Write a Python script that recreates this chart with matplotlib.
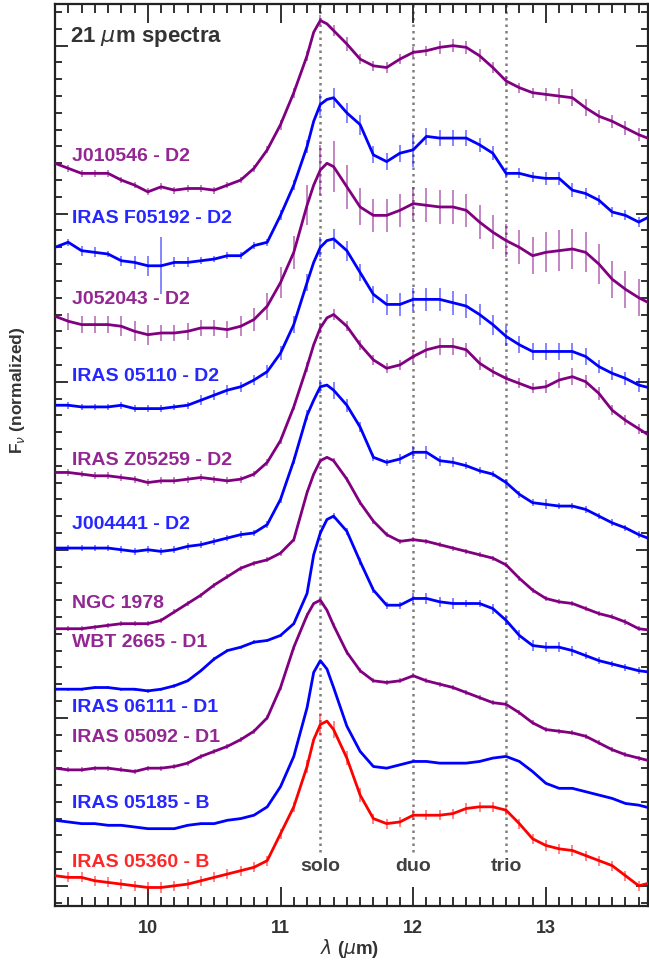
import numpy as np
import matplotlib
matplotlib.use('Agg')
import matplotlib.pyplot as plt
from matplotlib.ticker import MultipleLocator

plt.rcParams['font.family'] = ['Liberation Sans', 'DejaVu Sans']

# wavelength grid (micron), 0.1 steps with two extra samples across the 11.3 peak
wave = [9.3, 9.4, 9.5, 9.6, 9.7, 9.8, 9.9, 10.0,
        10.1, 10.2, 10.3, 10.4, 10.5, 10.6, 10.7, 10.8, 10.9, 11.0,
        11.1, 11.2, 11.25, 11.3, 11.35, 11.4, 11.5, 11.6, 11.7, 11.8, 11.9, 12.0,
        12.1, 12.2, 12.3, 12.4, 12.5, 12.6, 12.7, 12.8, 12.9, 13.0,
        13.1, 13.2, 13.3, 13.4, 13.5, 13.6, 13.7, 13.8]

# normalized spectra, each already shifted by its offset in the stack
f_j010546 = [4.30, 4.27, 4.24, 4.24, 4.24, 4.20, 4.17, 4.13,
             4.16, 4.14, 4.15, 4.15, 4.14, 4.17, 4.20, 4.27, 4.38, 4.53,
             4.72, 4.94, 5.08, 5.15, 5.13, 5.09, 5.01, 4.92, 4.88, 4.87, 4.92, 4.96,
             4.97, 4.99, 5.00, 4.99, 4.94, 4.87, 4.79, 4.75, 4.72, 4.71,
             4.70, 4.69, 4.63, 4.58, 4.55, 4.51, 4.47, 4.44]
f_f05192 = [3.80, 3.83, 3.78, 3.77, 3.76, 3.72, 3.71, 3.69,
            3.69, 3.71, 3.71, 3.72, 3.73, 3.75, 3.75, 3.81, 3.83, 3.99,
            4.17, 4.40, 4.55, 4.65, 4.68, 4.69, 4.60, 4.53, 4.35, 4.31, 4.36, 4.38,
            4.46, 4.45, 4.45, 4.45, 4.41, 4.36, 4.24, 4.24, 4.22, 4.21,
            4.21, 4.14, 4.12, 4.08, 4.01, 3.99, 3.95, 3.99]
f_j052043 = [3.39, 3.36, 3.34, 3.34, 3.34, 3.33, 3.30, 3.28,
             3.29, 3.29, 3.30, 3.32, 3.32, 3.31, 3.33, 3.37, 3.45, 3.59,
             3.77, 4.05, 4.17, 4.26, 4.30, 4.28, 4.16, 4.04, 3.99, 3.99, 4.02, 4.06,
             4.05, 4.04, 4.04, 4.02, 3.95, 3.89, 3.84, 3.80, 3.75, 3.77,
             3.78, 3.79, 3.77, 3.70, 3.61, 3.55, 3.50, 3.46]
f_05110 = [2.86, 2.86, 2.85, 2.85, 2.85, 2.86, 2.84, 2.84,
           2.84, 2.85, 2.86, 2.89, 2.92, 2.95, 2.97, 3.01, 3.06, 3.17,
           3.34, 3.59, 3.71, 3.80, 3.84, 3.85, 3.78, 3.65, 3.52, 3.46, 3.46, 3.49,
           3.49, 3.49, 3.47, 3.45, 3.40, 3.34, 3.27, 3.22, 3.18, 3.18,
           3.18, 3.18, 3.15, 3.09, 3.05, 3.02, 2.98, 2.96]
f_z05259 = [2.46, 2.46, 2.45, 2.44, 2.44, 2.43, 2.42, 2.40,
            2.41, 2.41, 2.42, 2.43, 2.42, 2.41, 2.42, 2.45, 2.52, 2.65,
            2.85, 3.09, 3.22, 3.32, 3.38, 3.40, 3.33, 3.22, 3.13, 3.08, 3.10, 3.15,
            3.19, 3.21, 3.21, 3.19, 3.11, 3.06, 3.02, 2.99, 2.96, 2.97,
            3.01, 3.03, 3.00, 2.93, 2.83, 2.77, 2.72, 2.67]
f_j004441 = [2.01, 2.01, 2.01, 2.01, 2.01, 2.00, 1.99, 2.00,
             1.99, 2.00, 2.02, 2.03, 2.05, 2.07, 2.09, 2.10, 2.15, 2.30,
             2.53, 2.80, 2.89, 2.97, 2.98, 2.95, 2.86, 2.73, 2.55, 2.52, 2.54, 2.58,
             2.58, 2.53, 2.52, 2.50, 2.47, 2.45, 2.40, 2.33, 2.28, 2.27,
             2.26, 2.26, 2.24, 2.20, 2.16, 2.13, 2.09, 2.06]
f_ngc1978 = [1.53, 1.53, 1.53, 1.54, 1.55, 1.56, 1.56, 1.56,
             1.58, 1.63, 1.68, 1.73, 1.79, 1.84, 1.89, 1.92, 1.94, 1.98,
             2.06, 2.34, 2.45, 2.53, 2.55, 2.53, 2.42, 2.28, 2.17, 2.09, 2.05, 2.06,
             2.05, 2.03, 2.01, 1.99, 1.97, 1.95, 1.91, 1.83, 1.76, 1.71,
             1.69, 1.68, 1.65, 1.62, 1.60, 1.57, 1.53, 1.52]
f_06111 = [1.17, 1.17, 1.17, 1.18, 1.18, 1.17, 1.17, 1.16,
           1.17, 1.19, 1.22, 1.28, 1.35, 1.40, 1.42, 1.45, 1.46, 1.49,
           1.56, 1.74, 1.97, 2.10, 2.18, 2.20, 2.11, 1.93, 1.76, 1.67, 1.67, 1.71,
           1.71, 1.69, 1.68, 1.68, 1.68, 1.65, 1.58, 1.49, 1.43, 1.42,
           1.42, 1.40, 1.37, 1.34, 1.32, 1.30, 1.28, 1.27]
f_05092 = [0.70, 0.69, 0.69, 0.70, 0.70, 0.69, 0.68, 0.70,
           0.70, 0.71, 0.73, 0.77, 0.80, 0.83, 0.87, 0.92, 1.00, 1.18,
           1.42, 1.61, 1.68, 1.70, 1.64, 1.55, 1.39, 1.28, 1.22, 1.21, 1.22, 1.25,
           1.22, 1.20, 1.18, 1.15, 1.12, 1.09, 1.08, 1.03, 0.97, 0.93,
           0.92, 0.91, 0.89, 0.85, 0.81, 0.78, 0.76, 0.74]
f_05185 = [0.39, 0.38, 0.37, 0.37, 0.36, 0.36, 0.35, 0.34,
           0.34, 0.34, 0.36, 0.37, 0.37, 0.39, 0.40, 0.42, 0.47, 0.59,
           0.77, 1.06, 1.27, 1.34, 1.29, 1.18, 0.95, 0.80, 0.71, 0.70, 0.72, 0.74,
           0.74, 0.73, 0.73, 0.73, 0.74, 0.76, 0.77, 0.74, 0.68, 0.61,
           0.58, 0.58, 0.56, 0.54, 0.52, 0.49, 0.48, 0.46]
f_05360 = [0.06, 0.05, 0.05, 0.03, 0.02, 0.01, 0.00, -0.01,
           -0.01, 0.00, 0.01, 0.03, 0.05, 0.07, 0.09, 0.11, 0.15, 0.31,
           0.47, 0.71, 0.87, 0.96, 0.98, 0.93, 0.76, 0.54, 0.40, 0.37, 0.38, 0.42,
           0.42, 0.42, 0.43, 0.46, 0.47, 0.47, 0.45, 0.37, 0.28, 0.24,
           0.22, 0.21, 0.18, 0.15, 0.12, 0.06, 0.00, 0.02]

# 1-sigma uncertainties, given on the 0.1 micron samples only
e_j010546 = [0.02, 0.02, 0.02, 0.02, 0.02, 0.02, 0.02, 0.02,
             0.02, 0.02, 0.02, 0.02, 0.02, 0.02, 0.02, 0.02, 0.02, 0.03,
             0.03, 0.03, 0.03, 0.03, 0.04, 0.03, 0.03, 0.03, 0.03, 0.03,
             0.03, 0.04, 0.04, 0.04, 0.04, 0.03, 0.03, 0.03, 0.03, 0.04,
             0.05, 0.05, 0.05, 0.04, 0.04, 0.04, 0.04, 0.04]
e_f05192 = [0.02, 0.02, 0.03, 0.03, 0.02, 0.03, 0.04, 0.06,
            0.17, 0.03, 0.03, 0.02, 0.02, 0.02, 0.02, 0.02, 0.02, 0.03,
            0.03, 0.04, 0.06, 0.06, 0.06, 0.06, 0.05, 0.05, 0.05, 0.10,
            0.05, 0.05, 0.05, 0.05, 0.04, 0.04, 0.03, 0.03, 0.03, 0.04,
            0.04, 0.04, 0.03, 0.03, 0.03, 0.03, 0.03, 0.04]
e_j052043 = [0.05, 0.05, 0.05, 0.05, 0.05, 0.06, 0.06, 0.06,
             0.05, 0.05, 0.05, 0.05, 0.05, 0.05, 0.06, 0.07, 0.08, 0.09,
             0.10, 0.12, 0.15, 0.15, 0.13, 0.11, 0.10, 0.10, 0.10, 0.10,
             0.10, 0.10, 0.10, 0.10, 0.10, 0.10, 0.10, 0.10, 0.11, 0.12,
             0.12, 0.12, 0.12, 0.12, 0.11, 0.11, 0.11, 0.11]
e_05110 = [0.02, 0.02, 0.02, 0.02, 0.02, 0.02, 0.02, 0.02,
           0.02, 0.02, 0.02, 0.03, 0.03, 0.03, 0.03, 0.03, 0.04, 0.04,
           0.05, 0.05, 0.06, 0.06, 0.06, 0.05, 0.05, 0.06, 0.07, 0.07,
           0.07, 0.07, 0.07, 0.07, 0.06, 0.06, 0.06, 0.05, 0.05, 0.05,
           0.05, 0.05, 0.05, 0.04, 0.04, 0.04, 0.04, 0.04]
e_z05259 = [0.02, 0.02, 0.02, 0.02, 0.02, 0.02, 0.02, 0.02,
            0.02, 0.02, 0.02, 0.02, 0.02, 0.02, 0.02, 0.02, 0.02, 0.02,
            0.02, 0.03, 0.03, 0.03, 0.03, 0.03, 0.03, 0.03, 0.03, 0.04,
            0.05, 0.05, 0.05, 0.04, 0.04, 0.03, 0.03, 0.03, 0.03, 0.04,
            0.05, 0.05, 0.04, 0.04, 0.03, 0.03, 0.03, 0.03]
e_j004441 = [0.02, 0.02, 0.02, 0.02, 0.02, 0.02, 0.02, 0.02,
             0.02, 0.02, 0.02, 0.02, 0.02, 0.02, 0.02, 0.02, 0.02, 0.02,
             0.02, 0.03, 0.04, 0.05, 0.04, 0.03, 0.02, 0.02, 0.03, 0.04,
             0.04, 0.03, 0.03, 0.02, 0.02, 0.02, 0.02, 0.02, 0.02, 0.03,
             0.02, 0.02, 0.02, 0.02, 0.02, 0.02, 0.02, 0.02]
e_ngc1978 = 0.015
e_06111 = [0.01, 0.01, 0.01, 0.01, 0.01, 0.01, 0.01, 0.01,
           0.01, 0.01, 0.01, 0.01, 0.01, 0.01, 0.01, 0.01, 0.01, 0.01,
           0.01, 0.01, 0.02, 0.02, 0.02, 0.02, 0.02, 0.02, 0.02, 0.03,
           0.03, 0.03, 0.03, 0.02, 0.02, 0.03, 0.03, 0.03, 0.03, 0.03,
           0.03, 0.03, 0.02, 0.02, 0.02, 0.02, 0.02, 0.02]
e_05092 = 0.015
e_05185 = 0.0
e_05360 = [0.03, 0.03, 0.03, 0.03, 0.03, 0.03, 0.03, 0.03,
           0.03, 0.03, 0.03, 0.03, 0.03, 0.03, 0.03, 0.03, 0.03, 0.03,
           0.03, 0.04, 0.06, 0.05, 0.04, 0.04, 0.03, 0.03, 0.03, 0.03,
           0.03, 0.03, 0.03, 0.03, 0.03, 0.03, 0.03, 0.03, 0.03, 0.03,
           0.03, 0.03, 0.03, 0.03, 0.03, 0.03, 0.03, 0.03]

PURPLE, BLUE, RED = '#800080', '#0000ff', '#ff0000'

spectra = [f_j010546, f_f05192, f_j052043, f_05110, f_z05259, f_j004441,
           f_ngc1978, f_06111, f_05092, f_05185, f_05360]
errors = [e_j010546, e_f05192, e_j052043, e_05110, e_z05259, e_j004441,
          e_ngc1978, e_06111, e_05092, e_05185, e_05360]
line_colors = [PURPLE, BLUE, PURPLE, BLUE, PURPLE, BLUE,
               PURPLE, BLUE, PURPLE, BLUE, RED]

names = ['J010546 - D2', 'IRAS F05192 - D2', 'J052043 - D2', 'IRAS 05110 - D2',
         'IRAS Z05259 - D2', 'J004441 - D2', 'NGC 1978', 'WBT 2665 - D1',
         'IRAS 06111 - D1', 'IRAS 05092 - D1', 'IRAS 05185 - B', 'IRAS 05360 - B']
name_colors = [PURPLE, BLUE, PURPLE, BLUE, PURPLE, BLUE,
               PURPLE, PURPLE, BLUE, PURPLE, BLUE, RED]
name_y = [4.34, 3.97, 3.49, 3.03, 2.53, 2.15, 1.68, 1.45, 1.06, 0.88, 0.49, 0.14]

modes = ['solo', 'duo', 'trio']
mode_wave = [11.3, 12.0, 12.7]

wave = np.array(wave)
on_grid = np.isclose(wave * 10, np.round(wave * 10))   # samples carrying error bars

fig = plt.figure(figsize=(6.49, 9.73), dpi=100)
ax = fig.add_axes([0.0847, 0.0689, 0.9138, 0.9270])

for flux, err, c in zip(spectra, errors, line_colors):
    flux = np.array(flux)
    ax.plot(wave, flux, color=c, lw=2.0, zorder=3, solid_joinstyle='round')
    err = np.broadcast_to(np.asarray(err, dtype=float), (on_grid.sum(),))
    if err.max() > 0:
        ax.errorbar(wave[on_grid], flux[on_grid], yerr=err, fmt='none', ecolor=c,
                    elinewidth=1.1, alpha=0.6, capsize=0, zorder=2)

# out-of-plane bending modes
for lab, w in zip(modes, mode_wave):
    ax.plot([w, w], [0.20, 5.3], color='#7f7f7f', lw=1.8, ls=(0, (1, 1.6)), zorder=1)
    ax.text(w, 0.115, lab, ha='center', va='center', fontsize=14,
            fontweight='bold', color='#404040')

for lab, y, c in zip(names, name_y, name_colors):
    ax.text(9.43, y, lab, ha='left', va='center', fontsize=14,
            fontweight='bold', color=c, alpha=0.85)

ax.text(9.415, 5.05, r'21 $\mu$m spectra', ha='left', va='center',
        fontsize=16, fontweight='bold', color='#333333')

ax.set_xlim(9.3, 13.77)
ax.set_ylim(-0.12, 5.248)
ax.xaxis.set_major_locator(MultipleLocator(1))
ax.xaxis.set_minor_locator(MultipleLocator(0.1))
ax.yaxis.set_major_locator(MultipleLocator(1))
ax.yaxis.set_minor_locator(MultipleLocator(0.1))
ax.tick_params(which='both', direction='in', top=True, right=True,
               labelleft=False, color='#222222', width=1.3)
ax.tick_params(axis='x', which='major', length=14)
ax.tick_params(axis='x', which='minor', length=6.5)
ax.tick_params(axis='y', which='major', length=9)
ax.tick_params(axis='y', which='minor', length=5)
ax.tick_params(axis='x', labelsize=13, pad=10, labelcolor='#333333')
for t in ax.get_xticklabels():
    t.set_fontweight('bold')
for s in ax.spines.values():
    s.set_linewidth(1.6)
    s.set_color('#222222')

fig.text(350 / 649, 1 - 948 / 973, r'$\lambda$ ($\mu$m)', ha='center', va='center',
         fontsize=13.5, fontweight='bold', color='#333333')
fig.text(18 / 649, 1 - 390 / 973, r'F$_\nu$ (normalized)', ha='center', va='center',
         rotation=90, fontsize=12.5, fontweight='bold', color='#333333')

fig.savefig('out.png', dpi=100)
